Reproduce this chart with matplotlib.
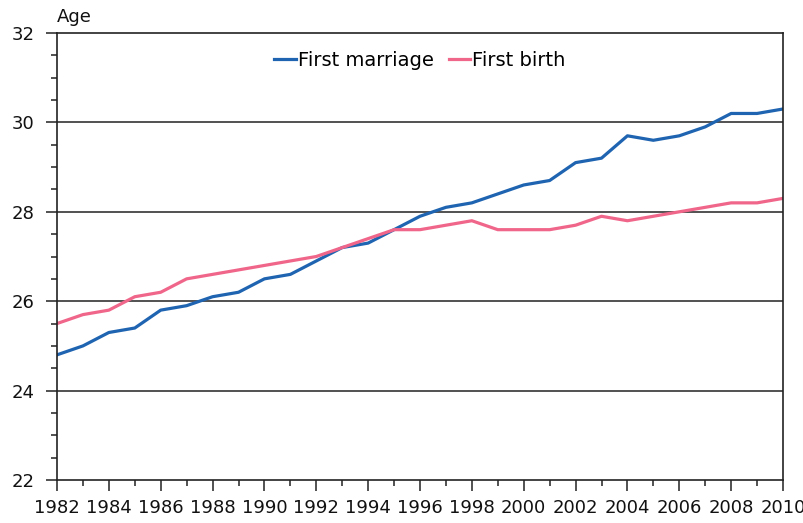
import numpy as np
import matplotlib.pyplot as plt
from matplotlib.ticker import MultipleLocator

years = list(range(1982, 2011))
first_marriage = [24.8, 25.0, 25.3, 25.4, 25.8, 25.9, 26.1, 26.2, 26.5, 26.6,
                  26.9, 27.2, 27.3, 27.6, 27.9, 28.1, 28.2, 28.4, 28.6, 28.7,
                  29.1, 29.2, 29.7, 29.6, 29.7, 29.9, 30.2, 30.2, 30.3]
first_birth = [25.5, 25.7, 25.8, 26.1, 26.2, 26.5, 26.6, 26.7, 26.8, 26.9,
               27.0, 27.2, 27.4, 27.6, 27.6, 27.7, 27.8, 27.6, 27.6, 27.6,
               27.7, 27.9, 27.8, 27.9, 28.0, 28.1, 28.2, 28.2, 28.3]

plt.rcParams['font.family'] = ['DejaVu Sans']
plt.rcParams['font.size'] = 13

fig = plt.figure(figsize=(8.04, 5.23), dpi=100)
ax = fig.add_axes([57/804, 1-480/523, (783-57)/804, (480-33)/523])

ax.plot(years, first_marriage, color='#1f64b1', lw=2.3, label='First marriage')
ax.plot(years, first_birth, color='#f0668a', lw=2.3, label='First birth')

ax.set_xlim(1982, 2010)
ax.set_ylim(22, 32)
ax.xaxis.set_major_locator(MultipleLocator(2))
ax.xaxis.set_minor_locator(MultipleLocator(1))
ax.yaxis.set_major_locator(MultipleLocator(2))
ax.yaxis.set_minor_locator(MultipleLocator(0.5))

# horizontal reference lines
for y in [24, 26, 28, 30]:
    ax.axhline(y, color='#222222', lw=1.1, zorder=0)

for s in ax.spines.values():
    s.set_color('#222222')
    s.set_linewidth(1.2)

ax.tick_params(axis='both', which='major', length=8, width=1.1, color='#222222',
               labelsize=13, labelcolor='#111111')
ax.tick_params(axis='both', which='minor', length=4.5, width=1.1, color='#222222')
ax.tick_params(axis='y', which='major', pad=8)
ax.tick_params(axis='x', which='major', pad=6)

fig.text(57/804, 1-22/523, 'Age', fontsize=13, color='#111111', va='baseline')

ax.legend(loc='upper center', bbox_to_anchor=(0.5, 1.0), ncol=2, frameon=False,
          handlelength=1.1, handletextpad=0.1, columnspacing=0.8, fontsize=14)

fig.savefig('out.png', dpi=100)
